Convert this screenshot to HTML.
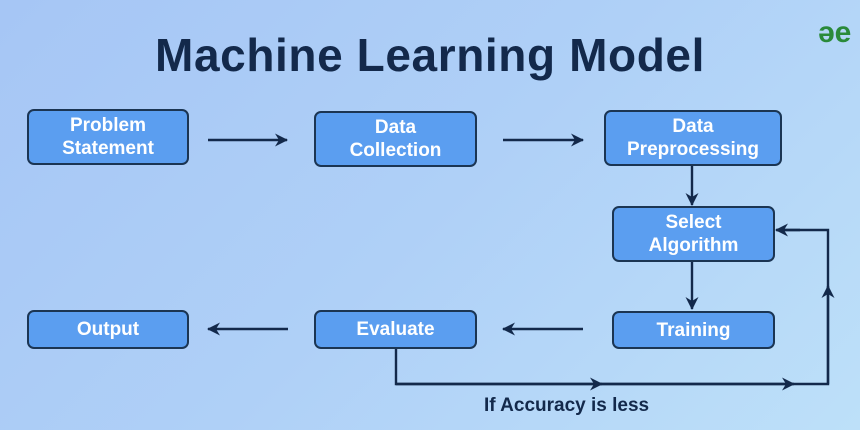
<!DOCTYPE html>
<html><head><style>
body{margin:0;width:860px;height:430px;overflow:hidden;background:linear-gradient(135deg,#a6c6f5 0%,#afd0f7 50%,#bde0f9 100%);font-family:"Liberation Sans",sans-serif;position:relative}
.t{position:absolute;left:0;width:860px;top:28px;text-align:center;font-size:46px;font-weight:bold;color:#13294b;letter-spacing:0.6px}
.b{position:absolute;box-sizing:border-box;background:#5b9ef0;border:2px solid #1b3553;border-radius:7px;color:#fff;font-weight:bold;font-size:19px;line-height:23px;display:flex;align-items:center;justify-content:center;text-align:center}
.lbl{position:absolute;left:484px;top:395px;font-size:19px;font-weight:bold;color:#13294b}
.logo{position:absolute;left:818px;top:16px;font-size:30px;font-weight:bold;color:#2a8a3a}
</style></head><body>
<div class="t">Machine Learning Model</div>
<div class="logo">əe</div>
<div class="b" style="left:27px;top:109px;width:162px;height:56px">Problem<br>Statement</div>
<div class="b" style="left:314px;top:111px;width:163px;height:56px">Data<br>Collection</div>
<div class="b" style="left:604px;top:110px;width:178px;height:56px">Data<br>Preprocessing</div>
<div class="b" style="left:612px;top:206px;width:163px;height:56px">Select<br>Algorithm</div>
<div class="b" style="left:612px;top:311px;width:163px;height:38px">Training</div>
<div class="b" style="left:314px;top:310px;width:163px;height:39px">Evaluate</div>
<div class="b" style="left:27px;top:310px;width:162px;height:39px">Output</div>
<svg width="860" height="430" style="position:absolute;left:0;top:0">
<defs><marker id="a" markerWidth="13" markerHeight="13" refX="12" refY="6.5" orient="auto" markerUnits="userSpaceOnUse"><path d="M0,0 L13,6.5 L0,13 L4,6.5 Z" fill="#13294b"/></marker></defs>
<g stroke="#13294b" stroke-width="2.4" fill="none">
<line x1="208" y1="140" x2="287" y2="140" marker-end="url(#a)"/>
<line x1="503" y1="140" x2="583" y2="140" marker-end="url(#a)"/>
<line x1="692" y1="166" x2="692" y2="205" marker-end="url(#a)"/>
<line x1="692" y1="262" x2="692" y2="309" marker-end="url(#a)"/>
<line x1="583" y1="329" x2="503" y2="329" marker-end="url(#a)"/>
<line x1="288" y1="329" x2="208" y2="329" marker-end="url(#a)"/>
<polyline points="396,349 396,384 828,384 828,230 777,230"/>
<line x1="396" y1="384" x2="602" y2="384" marker-end="url(#a)"/>
<line x1="600" y1="384" x2="794" y2="384" marker-end="url(#a)"/>
<line x1="828" y1="384" x2="828" y2="286" marker-end="url(#a)"/>
<line x1="800" y1="230" x2="776" y2="230" marker-end="url(#a)"/>
</g></svg>
<div class="lbl">If Accuracy is less</div>
</body></html>
